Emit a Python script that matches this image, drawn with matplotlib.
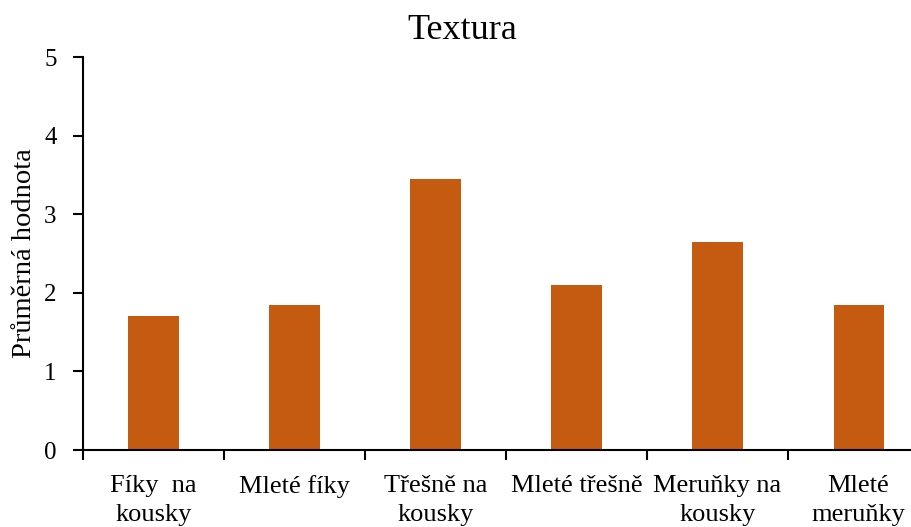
import matplotlib.pyplot as plt
import numpy as np

# Data
categories = ["Fíky  na\nkousky", "Mleté fíky", "Třešně na\nkousky",
              "Mleté třešně", "Meruňky na\nkousky", "Mleté\nmeruňky"]
values = [1.7, 1.85, 3.45, 2.1, 2.65, 1.85]

plt.rcParams['font.family'] = ['Liberation Serif', 'DejaVu Serif']

fig = plt.figure(figsize=(9.11, 5.27), dpi=100)
ax = fig.add_axes([0.0911, 0.146, 0.9287, 0.7457])

x = np.arange(len(categories))
ax.bar(x, values, width=0.355, color='#C55A11')

ax.set_xlim(-0.5, len(categories) - 0.5)
ax.set_ylim(0, 5)
ax.set_yticks([0, 1, 2, 3, 4, 5])

# Labels at centres, tick marks at category boundaries
ax.set_xticks(x)
ax.set_xticklabels(categories, fontsize=19, linespacing=1.4)
ax.set_xticks(np.arange(len(categories) + 1) - 0.5, minor=True)
ax.tick_params(axis='x', which='major', length=0, pad=18)
ax.tick_params(axis='x', which='minor', length=7, width=1.5, direction='out')
ax.tick_params(axis='y', labelsize=18, length=7, width=1.5, direction='out', pad=12)

for side in ['top', 'right']:
    ax.spines[side].set_visible(False)
for side in ['left', 'bottom']:
    ax.spines[side].set_linewidth(1.5)

ax.set_ylabel("Průměrná hodnota", fontsize=20.5, labelpad=5)
ax.set_title("Textura", fontsize=26, x=0.448, pad=13)

fig.savefig("out.png", dpi=100)
